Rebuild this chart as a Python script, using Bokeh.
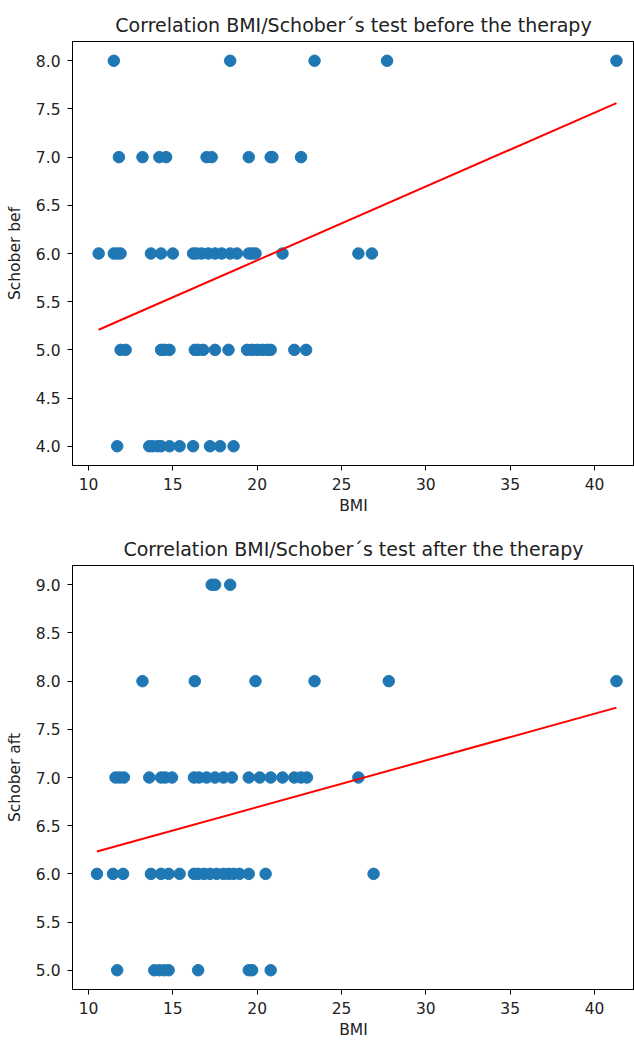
from bokeh.plotting import figure
from bokeh.layouts import column
from bokeh.models import Range1d, SingleIntervalTicker, NumeralTickFormatter
from bokeh.embed import file_html
from bokeh.resources import INLINE

# ---- Data: before therapy (BMI grouped by Schober value) ----
bef_levels = [8.0, 7.0, 6.0, 5.0, 4.0]
bef_bmi_8 = [11.5, 18.4, 23.4, 27.7, 41.3]
bef_bmi_7 = [11.8, 13.2, 14.2, 14.6, 17.0, 17.3, 19.5, 20.8, 20.9, 22.6]
bef_bmi_6 = [10.6, 11.5, 11.7, 11.9, 13.7, 14.3, 15.0, 16.2, 16.4, 16.7, 17.1,
             17.5, 17.9, 18.4, 18.8, 19.5, 19.7, 19.9, 21.5, 26.0, 26.8]
bef_bmi_5 = [11.9, 12.2, 14.3, 14.5, 14.8, 16.3, 16.5, 16.8, 17.5, 18.3, 19.4,
             19.7, 20.0, 20.3, 20.6, 20.8, 22.2, 22.9]
bef_bmi_4 = [11.7, 13.6, 13.8, 14.1, 14.3, 14.8, 15.4, 16.2, 17.2, 17.8, 18.6]
bef_fit_slope = 0.0766
bef_fit_intercept = 4.397

# ---- Data: after therapy ----
aft_levels = [9.0, 8.0, 7.0, 6.0, 5.0]
aft_bmi_9 = [17.3, 17.5, 18.4]
aft_bmi_8 = [13.2, 16.3, 19.9, 23.4, 27.8, 41.3]
aft_bmi_7 = [11.6, 11.85, 12.1, 13.6, 14.3, 14.55, 14.95, 16.25, 16.55, 17.0,
             17.5, 18.0, 18.5, 19.5, 20.15, 20.8, 21.5, 22.2, 22.6, 22.95, 26.0]
aft_bmi_6 = [10.5, 11.45, 12.05, 13.7, 14.3, 14.75, 15.4, 16.25, 16.5, 16.85,
             17.2, 17.6, 18.0, 18.3, 18.6, 18.95, 19.5, 20.5, 26.9]
aft_bmi_5 = [11.7, 13.9, 14.2, 14.5, 14.75, 16.5, 19.5, 19.7, 20.8]
aft_fit_slope = 0.0485
aft_fit_intercept = 5.722

x_ticks_interval = 5
y_ticks_interval = 0.5

FONT = "DejaVu Sans"


def flatten(levels, groups):
    xs, ys = [], []
    for lv, g in zip(levels, groups):
        xs += g
        ys += [lv] * len(g)
    return xs, ys


def make_fig(title, ylabel, xs, ys, slope, intercept, y_range, height,
             border_top, border_bottom):
    p = figure(width=634, height=height, output_backend="svg",
               toolbar_location=None, title=title,
               x_range=Range1d(9.05, 42.37), y_range=Range1d(*y_range),
               min_border_left=72, min_border_right=0,
               min_border_top=border_top, min_border_bottom=border_bottom)
    p.title.align = "center"
    p.title.text_font = FONT
    p.title.text_font_size = "19px"
    p.title.text_font_style = "normal"
    p.title.text_color = "#222222"
    p.title.standoff = 11
    p.grid.visible = False
    p.outline_line_color = "black"
    p.outline_line_width = 1

    p.xaxis.ticker = SingleIntervalTicker(interval=x_ticks_interval)
    p.yaxis.ticker = SingleIntervalTicker(interval=y_ticks_interval)
    p.yaxis.formatter = NumeralTickFormatter(format="0.0")
    for ax in (p.xaxis, p.yaxis):
        ax.minor_tick_line_color = None
        ax.major_tick_in = 0
        ax.major_tick_out = 5
        ax.major_label_text_font = FONT
        ax.major_label_text_font_size = "15.5px"
        ax.major_label_text_color = "#222222"
        ax.axis_label_text_font = FONT
        ax.axis_label_text_font_size = "15.5px"
        ax.axis_label_text_font_style = "normal"
        ax.axis_label_text_color = "#222222"
        ax.axis_line_color = "black"
        ax.major_tick_line_color = "black"
        ax.major_label_standoff = 7
    p.xaxis.axis_label = "BMI"
    p.xaxis.axis_label_standoff = 4
    p.yaxis.axis_label = ylabel
    p.yaxis.axis_label_standoff = 9

    p.scatter(xs, ys, size=11.5, color="#1f77b4")
    x0, x1 = min(xs), max(xs)
    p.line([x0, x1], [intercept + slope * x0, intercept + slope * x1],
           line_color="red", line_width=2)
    return p


bx, by = flatten(bef_levels, [bef_bmi_8, bef_bmi_7, bef_bmi_6, bef_bmi_5, bef_bmi_4])
ax_, ay = flatten(aft_levels, [aft_bmi_9, aft_bmi_8, aft_bmi_7, aft_bmi_6, aft_bmi_5])

p1 = make_fig("Correlation BMI/Schober\u00b4s test before the therapy", "Schober bef",
              bx, by, bef_fit_slope, bef_fit_intercept, (3.8, 8.2), 522, 41, 57)
p2 = make_fig("Correlation BMI/Schober\u00b4s test after the therapy", "Schober aft",
              ax_, ay, aft_fit_slope, aft_fit_intercept, (4.8, 9.2), 519, 43, 48)

layout = column(p1, p2, spacing=0)
open("out.html", "w").write(file_html(layout, INLINE))
